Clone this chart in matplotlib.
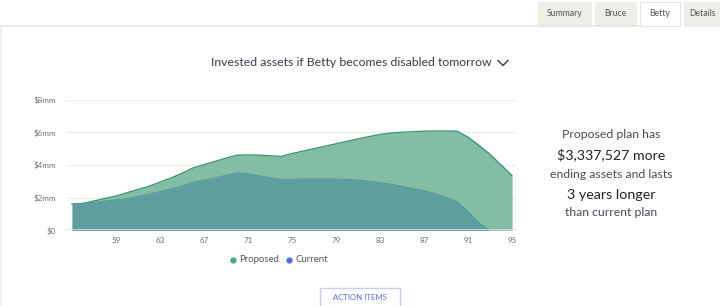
import matplotlib
matplotlib.use("Agg")
import matplotlib.pyplot as plt
from matplotlib.patches import Rectangle
from matplotlib.lines import Line2D

plt.rcParams['font.family'] = ['Lato', 'DejaVu Sans']

ages = list(range(55, 96))
proposed = [1.60, 1.65, 1.80, 1.95, 2.10, 2.30, 2.50, 2.70, 2.95, 3.20,
            3.50, 3.82, 4.02, 4.22, 4.42, 4.60, 4.62, 4.60, 4.57, 4.52,
            4.70, 4.85, 5.00, 5.15, 5.30, 5.45, 5.60, 5.74, 5.87, 5.96,
            6.00, 6.04, 6.07, 6.08, 6.08, 6.07, 5.70, 5.20, 4.65, 4.00,
            3.337527]
current = [1.60, 1.65, 1.72, 1.80, 1.87, 1.95, 2.08, 2.22, 2.38, 2.55,
           2.72, 2.95, 3.07, 3.22, 3.37, 3.52, 3.47, 3.35, 3.22, 3.12,
           3.13, 3.15, 3.16, 3.16, 3.15, 3.12, 3.08, 3.00, 2.92, 2.82,
           2.70, 2.56, 2.42, 2.25, 2.02, 1.76, 1.15, 0.45, 0.0, 0.0, 0.0]
x_ticks = [59, 63, 67, 71, 75, 79, 83, 87, 91, 95]
y_ticks = [0, 2, 4, 6, 8]
y_tick_labels = ["$0", "$2mm", "$4mm", "$6mm", "$8mm"]
series_names = ["Proposed", "Current"]
tabs = ["Summary", "Bruce", "Betty", "Details"]
title = "Invested assets if Betty becomes disabled tomorrow"
summary_lines = ["Proposed plan has", "$3,337,527 more", "ending assets and lasts",
                 "3 years longer", "than current plan"]

W, H = 720, 306
fig = plt.figure(figsize=(W / 100, H / 100), dpi=100)
fig.patch.set_facecolor("white")

def fx(px):
    return px / W

def fy(py):
    return 1 - py / H

# Axes: pixel x 66..517, y 99.7..230.3
ax = fig.add_axes([fx(66), fy(230.3), fx(517) - fx(66), fy(99.7) - fy(230.3)])
ax.set_xlim(54.45, 95.45)
ax.set_ylim(0, 8)

prop_fill = "#84bda6"
prop_line = "#3b9772"
cur_fill = "#5f9e9f"

ax.fill_between(ages, proposed, 0, color=prop_fill, lw=0, zorder=2)
ax.plot(ages, proposed, color=prop_line, lw=1.0, zorder=3)
ax.fill_between(ages, current, 0, color=cur_fill, lw=0, zorder=4)
ax.plot(ages, current, color="#4f9596", lw=0.6, zorder=4)

for yt in y_ticks[1:]:
    ax.axhline(yt, color="#efefef", lw=1.0, zorder=1)
ax.axhline(0, color="#d8dcef", lw=1.2, zorder=5)

for s in ax.spines.values():
    s.set_visible(False)
ax.set_xticks(x_ticks)
ax.set_xticklabels([str(t) for t in x_ticks])
ax.set_yticks(y_ticks)
ax.set_yticklabels(y_tick_labels)
ax.tick_params(axis="both", length=0, labelsize=5.8, labelcolor="#707070")
ax.tick_params(axis="x", pad=5)
ax.tick_params(axis="y", pad=7)
ax.set_facecolor("white")

# Title
fig.text(fx(351), fy(63), title, ha="center", va="center", fontsize=8.8, color="#3a3a48")
fig.add_artist(Line2D([fx(498), fx(503), fx(508)], [fy(60.5), fy(65.5), fy(60.5)],
                      color="#3a3a48", lw=1.0, transform=fig.transFigure))

# Legend
fig.add_artist(Line2D([fx(233)], [fy(260)], marker="o", ms=3.5, color="#4aa77e",
                      ls="none", transform=fig.transFigure))
fig.text(fx(239), fy(260), series_names[0], ha="left", va="center", fontsize=6.9, color="#555555")
fig.add_artist(Line2D([fx(289)], [fy(260)], marker="o", ms=3.5, color="#4a6fd6",
                      ls="none", transform=fig.transFigure))
fig.text(fx(295), fy(260), series_names[1], ha="left", va="center", fontsize=6.9, color="#555555")

# Summary text on right
ys = [134, 155, 175, 195, 212]
sizes = [8.8, 10.2, 8.8, 10.3, 8.8]
colors = ["#4a4a55", "#222222", "#4a4a55", "#222222", "#4a4a55"]
for line, yy, sz, c in zip(summary_lines, ys, sizes, colors):
    fig.text(fx(611), fy(yy), line, ha="center", va="center", fontsize=sz, color=c)

# Panel border
fig.add_artist(Line2D([fx(0), fx(640)], [fy(26), fy(26)], color="#e6e6e6", lw=1.2,
                      transform=fig.transFigure))
fig.add_artist(Line2D([fx(1), fx(1)], [fy(26), fy(306)], color="#ececec", lw=1.2,
                      transform=fig.transFigure))

# Tabs
tab_boxes = [(538, 591), (595, 636), (640, 680), (684, 722)]
for name, (x0, x1) in zip(tabs, tab_boxes):
    active = name == "Betty"
    fc = "white" if active else "#efede8"
    ec = "#e4e4e4" if active else "#efede8"
    r = Rectangle((fx(x0), fy(26)), fx(x1) - fx(x0), fy(2) - fy(26), transform=fig.transFigure,
                  facecolor=fc, edgecolor=ec, lw=0.8)
    fig.add_artist(r)
    fig.text(fx((x0 + x1) / 2), fy(14), name, ha="center", va="center", fontsize=6.2,
             color="#555555")

# Action items button
btn = Rectangle((fx(320), fy(307)), fx(400) - fx(320), fy(288) - fy(307), transform=fig.transFigure,
                facecolor="white", edgecolor="#c9cdf0", lw=1.0)
fig.add_artist(btn)
fig.text(fx(360), fy(298), "ACTION ITEMS", ha="center", va="center", fontsize=5.6, color="#5a70d8")

fig.savefig("out.png", dpi=100, facecolor="white")
